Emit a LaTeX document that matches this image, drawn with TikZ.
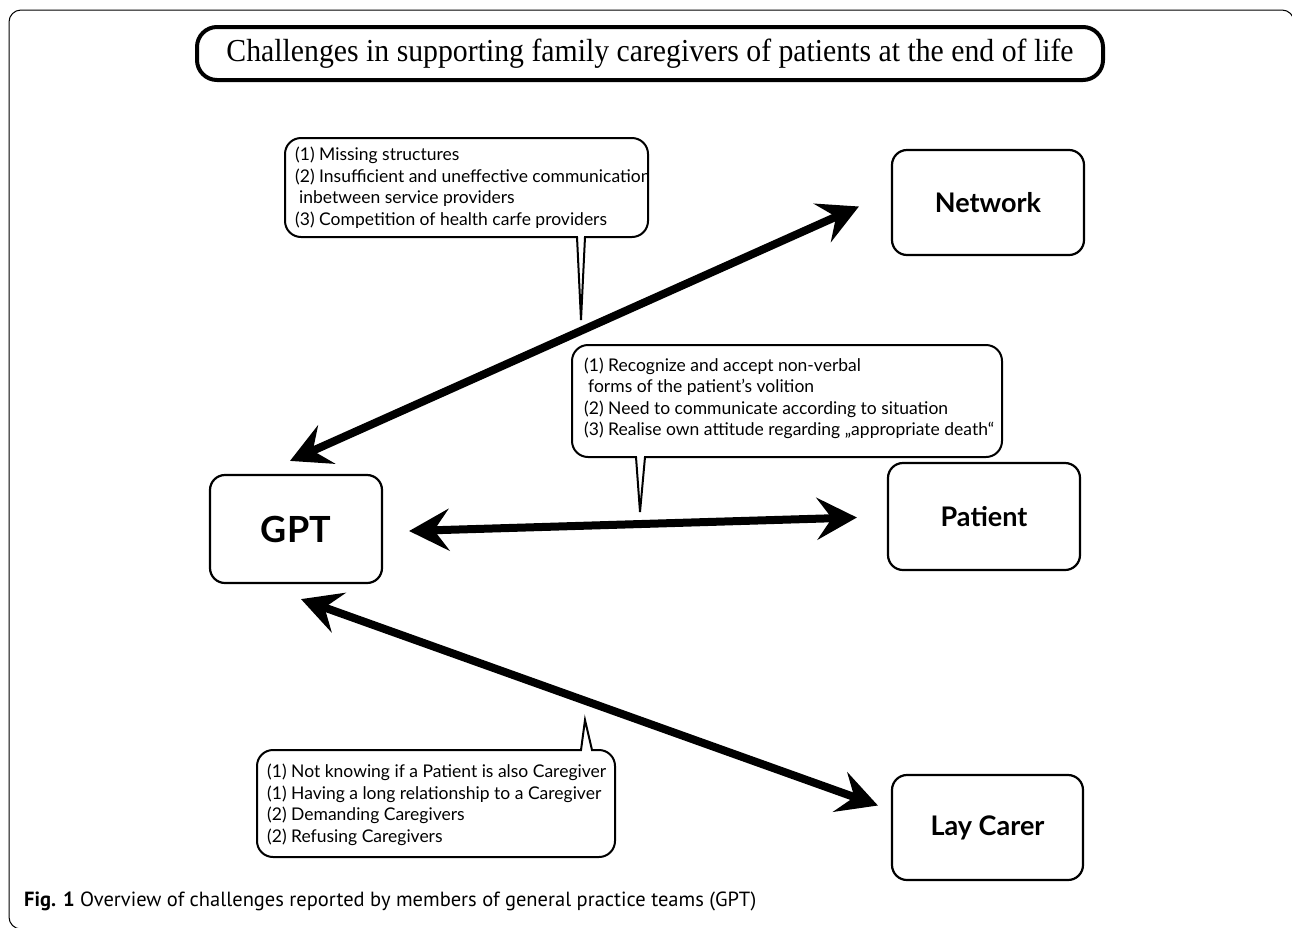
\documentclass[tikz,border=0pt]{standalone}
\usepackage{fontspec}
\setmainfont{Lato}
\newfontfamily\titlefont{Liberation Serif}
\newfontfamily\capfont{PT Sans}
\usetikzlibrary{arrows.meta,calc}
\tikzset{
  box/.style={draw, line width=2.2pt, rounded corners=15pt, fill=white, font=\fontsize{27}{30}\selectfont\bfseries, inner sep=0pt},
  bubble/.style={draw, line width=2pt, fill=white},
  btext/.style={anchor=north west, align=left, inner sep=0pt, font=\fontsize{17.5}{21.5}\selectfont},
  bigarrow/.style={line width=8pt, {Stealth[length=40pt,width=42pt,inset=15pt]}-{Stealth[length=40pt,width=42pt,inset=15pt]}},
  frame/.style={draw, line width=1pt}
}
\begin{document}
\begin{tikzpicture}[x=1pt,y=-1pt]
\useasboundingbox (0,0) rectangle (1292,927);
% outer frame
\draw[frame] (30,929) -- (21,929) arc[start angle=90,end angle=180,radius=12] -- (9,22) arc[start angle=180,end angle=270,radius=12] -- (1282,10) arc[start angle=270,end angle=360,radius=12] -- (1294,40);
% title
\node[draw, line width=4pt, rounded corners=20pt, minimum width=906pt, minimum height=53pt, inner sep=0pt] (title) at (650,53.5) {\titlefont\fontsize{32}{36}\selectfont\scalebox{0.93}[1]{Challenges in supporting family caregivers of patients at the end of life}};
% boxes
\node[box, minimum width=172pt, minimum height=108pt, font=\fontsize{36}{40}\selectfont\bfseries] (gpt) at (296,529) {GPT};
\node[box, minimum width=192pt, minimum height=105pt] (network) at (988,202.5) {Network};
\node[box, minimum width=192pt, minimum height=107pt] (patient) at (984,516.5) {Patient};
\node[box, minimum width=191pt, minimum height=105pt] (laycarer) at (987.5,827.5) {Lay Carer};
% arrows
\draw[bigarrow] ($(gpt.north)+(-6,-13)$) -- ($(network.west)+(-32,4)$);
\draw[bigarrow] ($(gpt.east)+(26,2)$) -- ($(patient.west)+(-30,1)$);
\draw[bigarrow] ($(gpt.south)+(5,15)$) -- ($(laycarer.west)+(-13,-22)$);
% bubble 1
\draw[bubble, rounded corners=16pt] (285,138) rectangle (648,237);
\fill[white] (578,235) rectangle (584,239);
\draw[line width=2pt] (577,237) -- (581,320) -- (585,237);
\begin{scope}
\clip (287,140) rectangle (646,235);
\node[btext] (b1) at (295,147) {(1) Missing structures\\(2) Insufficient and uneffective communication\\\hspace{4pt}inbetween service providers\\(3) Competition of health carfe providers};
\end{scope}
% bubble 2
\draw[bubble, rounded corners=16pt] (572,345) rectangle (1002,457);
\fill[white] (637,455) rectangle (644,459);
\draw[line width=2pt] (636,457) -- (640,512) -- (645,457);
\begin{scope}
\clip (574,347) rectangle (1000,455);
\node[btext] (b2) at (584,357.5) {(1) Recognize and accept non-verbal\\\hspace{4pt}forms of the patient's volition\\(2) Need to communicate according to situation\\(3) Realise own attitude regarding „appropriate death“};
\end{scope}
% bubble 3
\draw[bubble, rounded corners=16pt] (257,750) rectangle (615,857);
\fill[white] (582,748) rectangle (591,752);
\draw[line width=2pt] (581,750) -- (585,720) -- (592,750);
\begin{scope}
\clip (259,752) rectangle (613,855);
\node[btext] (b3) at (267,764) {(1) Not knowing if a Patient is also Caregiver\\(1) Having a long relationship to a Caregiver\\(2) Demanding Caregivers\\(2) Refusing Caregivers};
\end{scope}
% caption
\node[anchor=base west, inner sep=0pt, font=\capfont\fontsize{20.5}{24}\selectfont] (cap) at (24,906) {\textbf{Fig. 1} Overview of challenges reported by members of general practice teams (GPT)};
\end{tikzpicture}
\end{document}
